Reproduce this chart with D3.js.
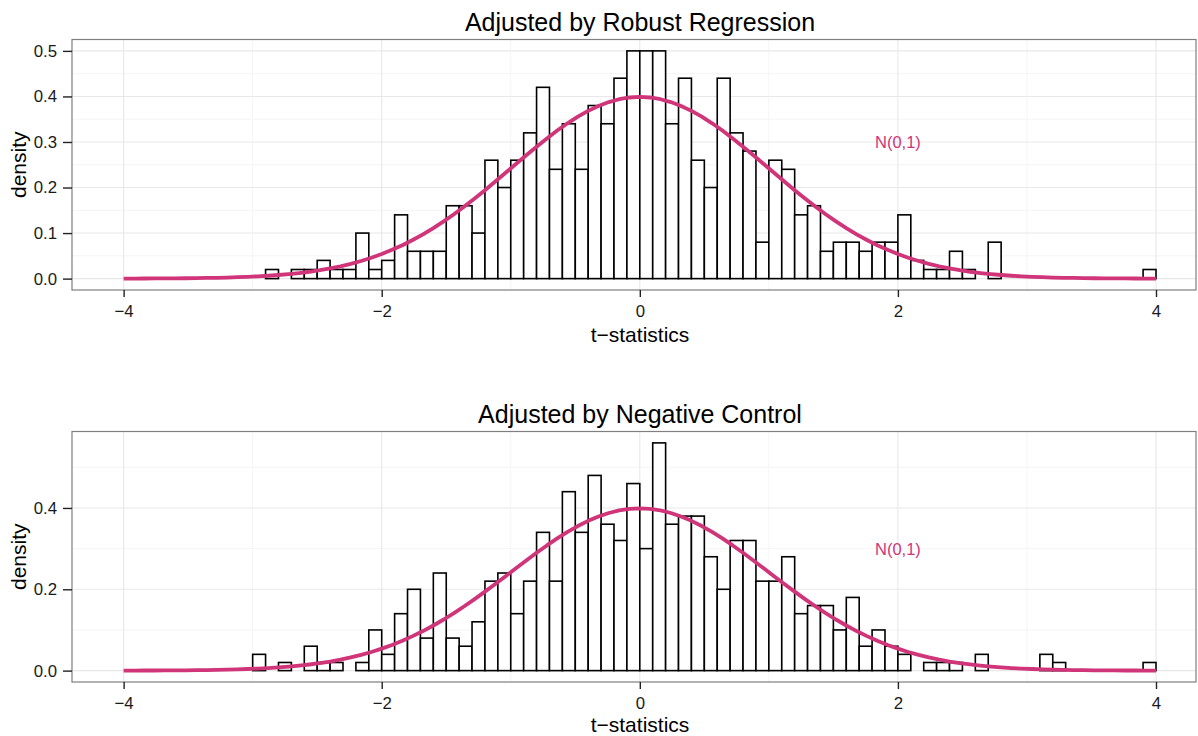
<!DOCTYPE html>
<html>
<head>
<meta charset="utf-8">
<script src="https://cdn.jsdelivr.net/npm/d3@7"></script>
<style>
  body { margin: 0; background: #fff; }
  text { font-family: "Liberation Sans", Arial, sans-serif; }
</style>
</head>
<body>
<svg id="chart" width="1198" height="736"></svg>
<script>
// histogram bins, width 0.1, left edge of first bin given
const binWidth = 0.1;

const robustStart = -2.9;
const robustDensity = [
  0.02, 0.00, 0.02, 0.02, 0.04, 0.02, 0.02, 0.10, 0.02, 0.04,
  0.14, 0.06, 0.06, 0.06, 0.16, 0.16, 0.10, 0.26, 0.20, 0.26,
  0.32, 0.42, 0.24, 0.34, 0.24, 0.38, 0.34, 0.44, 0.50, 0.50,
  0.50, 0.34, 0.44, 0.26, 0.20, 0.44, 0.32, 0.28, 0.08, 0.26,
  0.24, 0.14, 0.16, 0.06, 0.08, 0.08, 0.06, 0.08, 0.08, 0.14,
  0.04, 0.02, 0.02, 0.06, 0.02, 0.00, 0.08, 0.00, 0.00, 0.00,
  0.00, 0.00, 0.00, 0.00, 0.00, 0.00, 0.00, 0.00, 0.02
];

const negctlStart = -3.0;
const negctlDensity = [
  0.04, 0.00, 0.02, 0.00, 0.06, 0.02, 0.02, 0.00, 0.02, 0.10,
  0.04, 0.14, 0.20, 0.08, 0.24, 0.08, 0.06, 0.12, 0.22, 0.24,
  0.14, 0.22, 0.34, 0.22, 0.44, 0.34, 0.48, 0.36, 0.32, 0.46,
  0.30, 0.56, 0.36, 0.38, 0.38, 0.28, 0.20, 0.32, 0.32, 0.22,
  0.22, 0.28, 0.14, 0.16, 0.16, 0.10, 0.18, 0.06, 0.10, 0.06,
  0.04, 0.00, 0.02, 0.02, 0.02, 0.00, 0.04, 0.00, 0.00, 0.00,
  0.00, 0.04, 0.02, 0.00, 0.00, 0.00, 0.00, 0.00, 0.00, 0.02
];

const xTicks = [-4, -2, 0, 2, 4];
const xMinor = [-3, -1, 1, 3];
const robustYTicks = [0, 0.1, 0.2, 0.3, 0.4, 0.5];
const robustYMinor = [0.05, 0.15, 0.25, 0.35, 0.45];
const negctlYTicks = [0, 0.2, 0.4];
const negctlYMinor = [0.1, 0.3, 0.5];

const curveRange = [-4, 4];
const curveMean = 0, curveSd = 1;
const curveLabel = {x: 2, y: 0.3, text: "N(0,1)"};

const titles = ["Adjusted by Robust Regression", "Adjusted by Negative Control"];

const pink = "#d0357a";
const svg = d3.select("#chart");
const fmtTick = d => d3.format(".0f")(d).replace("-", "\u2212");

function normalPdf(v) {
  const z = (v - curveMean) / curveSd;
  return Math.exp(-0.5 * z * z) / (curveSd * Math.sqrt(2 * Math.PI));
}

function drawPanel(opt) {
  const left = 72, right = 1196;
  const x = d3.scaleLinear().domain([-4.4, 4.31]).range([left, right]);
  const y = d3.scaleLinear().domain(opt.yDomain).range([opt.bottom, opt.top]);
  const g = svg.append("g");

  // panel background + grid
  g.append("rect")
    .attr("x", left).attr("y", opt.top)
    .attr("width", right - left).attr("height", opt.bottom - opt.top)
    .attr("fill", "#fff");

  g.selectAll(".ymin").data(opt.yMinor).enter().append("line")
    .attr("x1", left).attr("x2", right)
    .attr("y1", d => y(d)).attr("y2", d => y(d))
    .attr("stroke", "#f5f5f5").attr("stroke-width", 1);
  g.selectAll(".xmin").data(xMinor).enter().append("line")
    .attr("x1", d => x(d)).attr("x2", d => x(d))
    .attr("y1", opt.top).attr("y2", opt.bottom)
    .attr("stroke", "#f5f5f5").attr("stroke-width", 1);
  g.selectAll(".ymaj").data(opt.yTicks).enter().append("line")
    .attr("x1", left).attr("x2", right)
    .attr("y1", d => y(d)).attr("y2", d => y(d))
    .attr("stroke", "#e8e8e8").attr("stroke-width", 1.1);
  g.selectAll(".xmaj").data(xTicks).enter().append("line")
    .attr("x1", d => x(d)).attr("x2", d => x(d))
    .attr("y1", opt.top).attr("y2", opt.bottom)
    .attr("stroke", "#e8e8e8").attr("stroke-width", 1.1);

  // histogram bars
  const bins = opt.density.map((d, i) => ({x0: opt.start + i * binWidth, d: d}));
  g.selectAll(".bar").data(bins).enter().append("rect")
    .attr("x", b => x(b.x0))
    .attr("width", b => x(b.x0 + binWidth) - x(b.x0))
    .attr("y", b => y(b.d))
    .attr("height", b => y(0) - y(b.d))
    .attr("fill", "#fff")
    .attr("stroke", "#000")
    .attr("stroke-width", 1.6);

  // normal curve
  const pts = d3.range(101).map(i => curveRange[0] + i * (curveRange[1] - curveRange[0]) / 100);
  const line = d3.line().x(v => x(v)).y(v => y(normalPdf(v)));
  g.append("path")
    .attr("d", line(pts))
    .attr("fill", "none")
    .attr("stroke", pink)
    .attr("stroke-width", 3.8)
    .attr("stroke-linejoin", "round");

  g.append("text")
    .attr("x", x(curveLabel.x)).attr("y", y(curveLabel.y))
    .attr("dy", "0.36em")
    .attr("text-anchor", "middle")
    .attr("font-size", 16.5)
    .attr("fill", pink)
    .text(curveLabel.text);

  // border
  g.append("rect")
    .attr("x", left).attr("y", opt.top)
    .attr("width", right - left).attr("height", opt.bottom - opt.top)
    .attr("fill", "none").attr("stroke", "#7f7f7f").attr("stroke-width", 1.2);

  // axes
  const xAxis = d3.axisBottom(x).tickValues(xTicks).tickSize(7).tickPadding(8).tickFormat(fmtTick);
  const gx = g.append("g").attr("transform", `translate(0,${opt.bottom})`).call(xAxis);
  gx.select(".domain").remove();
  gx.selectAll(".tick line").attr("stroke", "#222").attr("stroke-width", 1.4);
  gx.selectAll(".tick text").attr("font-size", 16.8).attr("fill", "#1a1a1a")
    .attr("font-family", "Liberation Sans, Arial, sans-serif");

  const yAxis = d3.axisLeft(y).tickValues(opt.yTicks).tickSize(9).tickPadding(6).tickFormat(d3.format(".1f"));
  const gy = g.append("g").attr("transform", `translate(${left},0)`).call(yAxis);
  gy.select(".domain").remove();
  gy.selectAll(".tick line").attr("stroke", "#222").attr("stroke-width", 1.4);
  gy.selectAll(".tick text").attr("font-size", 16.8).attr("fill", "#1a1a1a")
    .attr("font-family", "Liberation Sans, Arial, sans-serif");

  // labels
  g.append("text")
    .attr("x", 640).attr("y", opt.titleY)
    .attr("text-anchor", "middle")
    .attr("font-size", 25)
    .attr("fill", "#000")
    .text(opt.title);

  g.append("text")
    .attr("x", 640).attr("y", opt.xLabelY)
    .attr("text-anchor", "middle")
    .attr("font-size", 21)
    .attr("fill", "#000")
    .text("t\u2212statistics");

  g.append("text")
    .attr("transform", `translate(26,${(opt.top + opt.bottom) / 2}) rotate(-90)`)
    .attr("text-anchor", "middle")
    .attr("font-size", 21)
    .attr("fill", "#000")
    .text("density");
}

drawPanel({
  top: 39.5, bottom: 290, yDomain: [-0.025, 0.525],
  yTicks: robustYTicks, yMinor: robustYMinor,
  start: robustStart, density: robustDensity,
  title: titles[0], titleY: 31, xLabelY: 342
});

drawPanel({
  top: 431.5, bottom: 682, yDomain: [-0.028, 0.588],
  yTicks: negctlYTicks, yMinor: negctlYMinor,
  start: negctlStart, density: negctlDensity,
  title: titles[1], titleY: 423, xLabelY: 732
});
</script>
</body>
</html>
